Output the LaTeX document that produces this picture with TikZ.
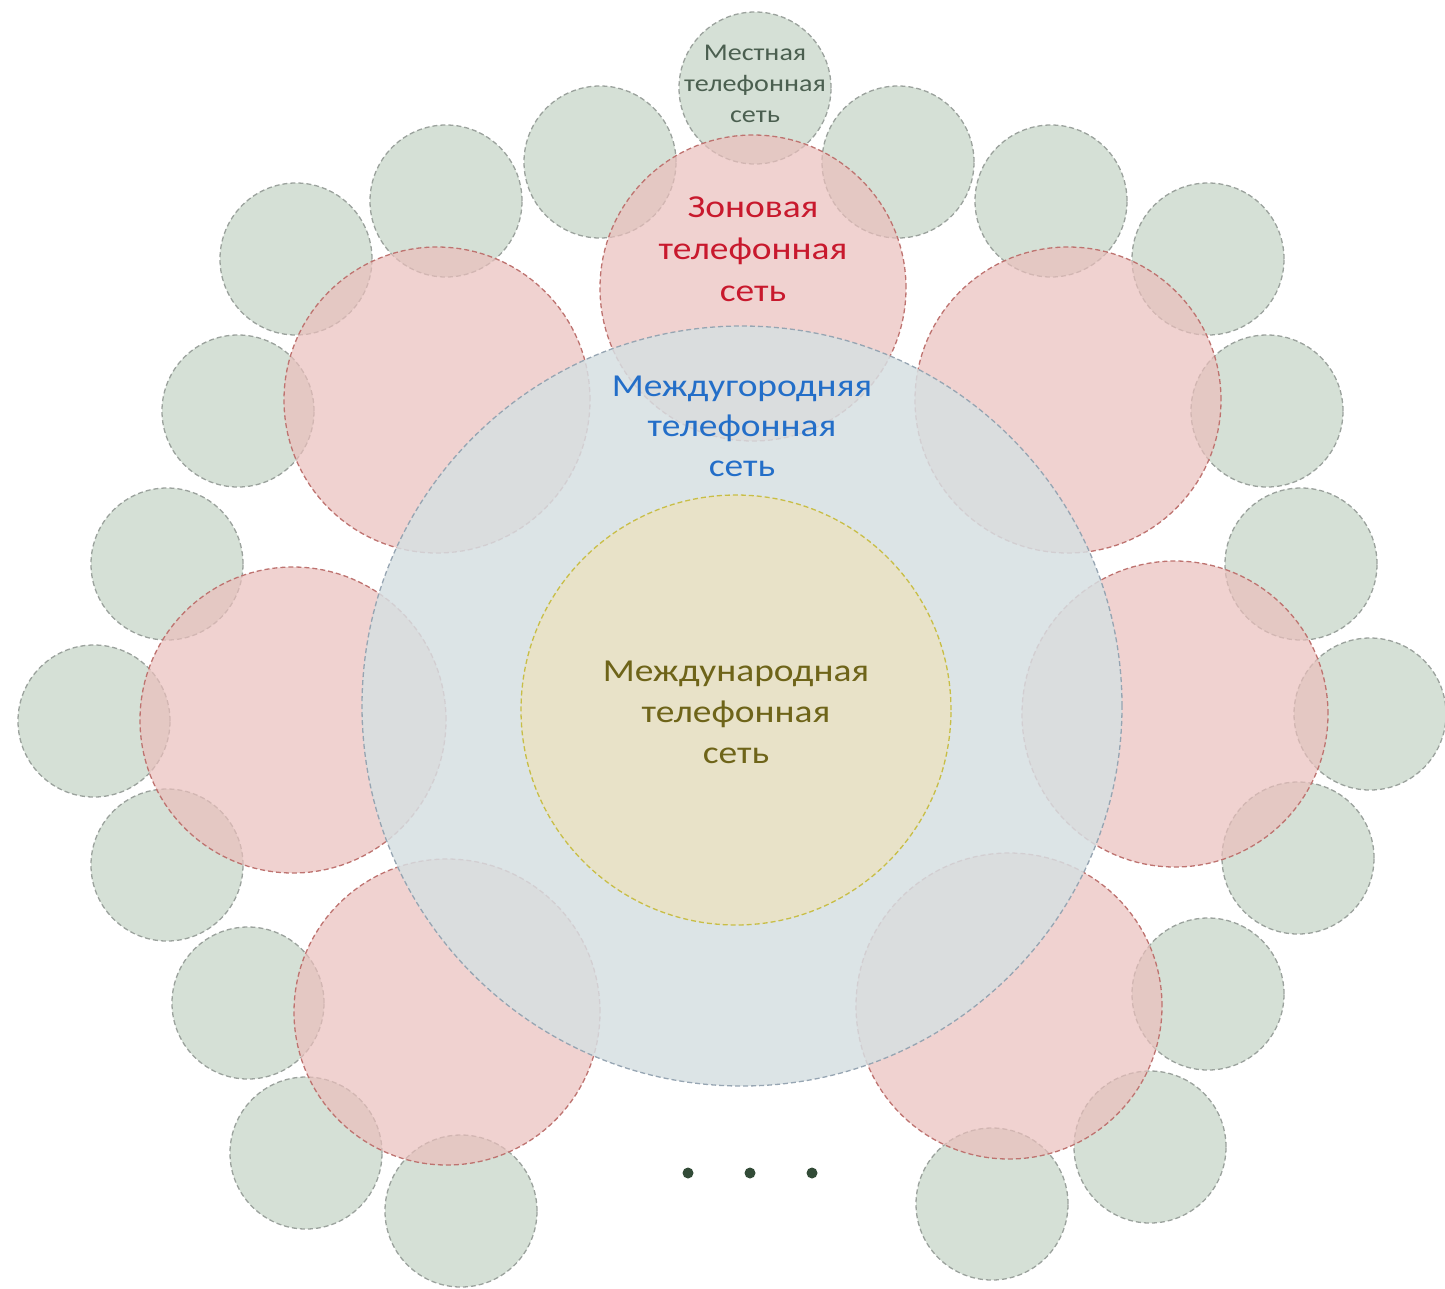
\documentclass[tikz,border=0pt]{standalone}
\usepackage{fontspec}
\setmainfont{Carlito}
\newfontfamily\widefont[FakeStretch=1.17]{Carlito}
\definecolor{gfill}{RGB}{195,211,196}
\definecolor{gline}{RGB}{155,162,157}
\definecolor{rfill}{RGB}{234,191,188}
\definecolor{rline}{RGB}{190,115,112}
\definecolor{bfill}{RGB}{214,223,226}
\definecolor{bline}{RGB}{150,165,178}
\definecolor{yfill}{RGB}{232,226,200}
\definecolor{yline}{RGB}{200,190,70}
\definecolor{tgreen}{RGB}{75,95,80}
\definecolor{tred}{RGB}{200,25,45}
\definecolor{tblue}{RGB}{35,110,200}
\definecolor{tolive}{RGB}{110,100,25}
\definecolor{dotc}{RGB}{50,75,55}
\tikzset{
  dashline/.style={dash pattern=on 5pt off 3pt, line width=1.3pt},
  localnet/.style={circle, inner sep=0pt, minimum size=152pt, fill=gfill, fill opacity=0.7, draw=gline, dashline},
  zonenet/.style={circle, inner sep=0pt, minimum size=306pt, fill=rfill, fill opacity=0.7, draw=rline, dashline},
  longnet/.style={circle, inner sep=0pt, minimum size=760pt, fill=bfill, fill opacity=0.85, draw=bline, dashline},
  intlnet/.style={circle, inner sep=0pt, minimum size=430pt, fill=yfill, draw=yline, dashline},
  lbl/.style={align=center, inner sep=0pt},
  dotn/.style={circle, inner sep=0pt, minimum size=11pt, fill=dotc}
}
\begin{document}
\begin{tikzpicture}[x=1pt,y=-1pt]
\useasboundingbox (0,0) rectangle (1445,1288);
% local networks
\node[localnet] (g1) at (755,88) {};
\node[localnet] (g2) at (600,162) {};
\node[localnet] (g3) at (898,162) {};
\node[localnet] (g4) at (446,201) {};
\node[localnet] (g5) at (1051,201) {};
\node[localnet] (g6) at (296,259) {};
\node[localnet] (g7) at (1208,259) {};
\node[localnet] (g8) at (238,411) {};
\node[localnet] (g9) at (1267,411) {};
\node[localnet] (g10) at (167,564) {};
\node[localnet] (g11) at (1301,564) {};
\node[localnet] (g12) at (94,721) {};
\node[localnet] (g13) at (1370,714) {};
\node[localnet] (g14) at (167,865) {};
\node[localnet] (g15) at (1298,858) {};
\node[localnet] (g16) at (248,1003) {};
\node[localnet] (g17) at (1208,994) {};
\node[localnet] (g18) at (306,1153) {};
\node[localnet] (g19) at (1150,1147) {};
\node[localnet] (g20) at (461,1211) {};
\node[localnet] (g21) at (992,1204) {};
% zone networks
\node[zonenet] (z1) at (753,288) {};
\node[zonenet] (z2) at (437,400) {};
\node[zonenet] (z3) at (1068,400) {};
\node[zonenet] (z4) at (293,720) {};
\node[zonenet] (z5) at (1175,714) {};
\node[zonenet] (z6) at (447,1012) {};
\node[zonenet] (z7) at (1009,1006) {};
% long-distance network
\node[longnet] (ld) at (742,706) {};
% international network
\node[intlnet] (in) at (736,710) {};
% labels
\node[lbl, font=\widefont\fontsize{24}{31}\selectfont, text=tgreen] (tg) at (755,84) {Местная\\телефонная\\сеть};
\node[lbl, font=\widefont\fontsize{32}{42}\selectfont, text=tred] (tz) at (753,249) {Зоновая\\телефонная\\сеть};
\node[lbl, font=\widefont\fontsize{32}{40}\selectfont, text=tblue] (tl) at (742,426) {Междугородняя\\телефонная\\сеть};
\node[lbl, font=\widefont\fontsize{32}{41}\selectfont, text=tolive] (ti) at (736,712) {Международная\\телефонная\\сеть};
% ellipsis dots
\node[dotn] (d1) at (688,1173) {};
\node[dotn] (d2) at (750,1173) {};
\node[dotn] (d3) at (812,1173) {};
\end{tikzpicture}
\end{document}
